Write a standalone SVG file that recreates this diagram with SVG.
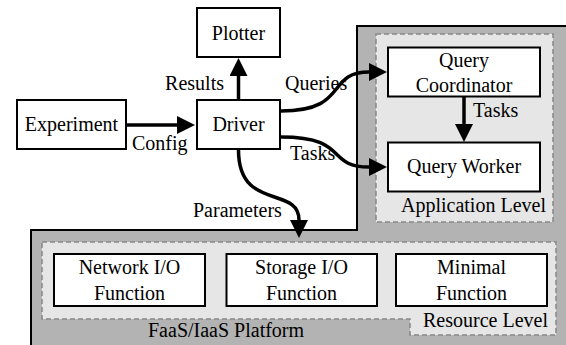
<svg xmlns="http://www.w3.org/2000/svg" width="566" height="345" viewBox="0 0 566 345" font-family="Liberation Serif, Times New Roman, Times, serif" font-size="20">
  <style>
    text { fill: #000; font-family: "Liberation Serif", "Times New Roman", Times, serif; }
    .c { text-anchor: middle; }
    .e { text-anchor: end; }
    .box { fill: #fff; stroke: #000; stroke-width: 2; }
    .level { fill: #e6e6e6; stroke: #888; stroke-width: 1.5; stroke-dasharray: 5 3; }
    .edge { fill: none; stroke: #000; stroke-width: 3.5; }
  </style>
  <defs>
    <marker id="arrow" markerUnits="userSpaceOnUse" markerWidth="19" markerHeight="18" refX="0" refY="9" orient="auto">
      <path d="M0,0 L18,9 L0,18 Z" fill="#000"/>
    </marker>
  </defs>

  <!-- FaaS/IaaS platform background -->
  <g id="platform">
    <path d="M31,350 L31,230 L357,230 L357,26 L570,26 L570,350 Z" fill="#b3b3b3" stroke="#000" stroke-width="2"/>
    <text x="148" y="337">FaaS/IaaS Platform</text>
  </g>

  <!-- Application level -->
  <g id="application-level">
    <rect class="level" x="376" y="34" width="177" height="188"/>
    <text x="401" y="212">Application Level</text>
  </g>

  <!-- Resource level -->
  <g id="resource-level">
    <path class="level" d="M42,242 L556,242 L556,335 L410,335 L410,319 L42,319 Z"/>
    <text x="423" y="327">Resource Level</text>
  </g>

  <g id="plotter">
    <rect class="box" x="197" y="8" width="83" height="49"/>
    <text class="c" x="238.5" y="39.5">Plotter</text>
  </g>
  <g id="experiment">
    <rect class="box" x="17" y="100" width="109" height="49"/>
    <text class="c" x="71.5" y="131">Experiment</text>
  </g>
  <g id="driver">
    <rect class="box" x="197" y="100" width="83" height="49"/>
    <text class="c" x="238.5" y="131">Driver</text>
  </g>
  <g id="query-coordinator">
    <rect class="box" x="388" y="47.5" width="152" height="49"/>
    <text class="c" x="464" y="66.5">Query</text>
    <text class="c" x="464" y="91.5">Coordinator</text>
  </g>
  <g id="query-worker">
    <rect class="box" x="388" y="142.5" width="152" height="49"/>
    <text class="c" x="464" y="173">Query Worker</text>
  </g>
  <g id="network-io-function">
    <rect class="box" x="54" y="254" width="151" height="52"/>
    <text class="c" x="129.5" y="274">Network I/O</text>
    <text class="c" x="129.5" y="300">Function</text>
  </g>
  <g id="storage-io-function">
    <rect class="box" x="226.5" y="254" width="150.5" height="52"/>
    <text class="c" x="301.5" y="274">Storage I/O</text>
    <text class="c" x="301.5" y="300">Function</text>
  </g>
  <g id="minimal-function">
    <rect class="box" x="396" y="254" width="151" height="52"/>
    <text class="c" x="471.5" y="274">Minimal</text>
    <text class="c" x="471.5" y="300">Function</text>
  </g>

  <!-- connectors -->
  <g id="connectors">
    <path class="edge" d="M127,125 L177,125" marker-end="url(#arrow)"/>
    <path class="edge" d="M238.5,100 L238.5,76" marker-end="url(#arrow)"/>
    <path class="edge" d="M281,111 C350,111 325,72 369,72" marker-end="url(#arrow)"/>
    <path class="edge" d="M281,137 C350,137 325,167 369,167" marker-end="url(#arrow)"/>
    <path class="edge" d="M464,97 L464,124" marker-end="url(#arrow)"/>
    <path class="edge" d="M238.5,150 C238.5,212 299,185 299,220" marker-end="url(#arrow)"/>
    <text x="132" y="150">Config</text>
    <text class="e" x="224" y="90">Results</text>
    <text x="285" y="90">Queries</text>
    <text x="290" y="160">Tasks</text>
    <text x="473" y="117">Tasks</text>
    <text x="193" y="217">Parameters</text>
  </g>
</svg>
